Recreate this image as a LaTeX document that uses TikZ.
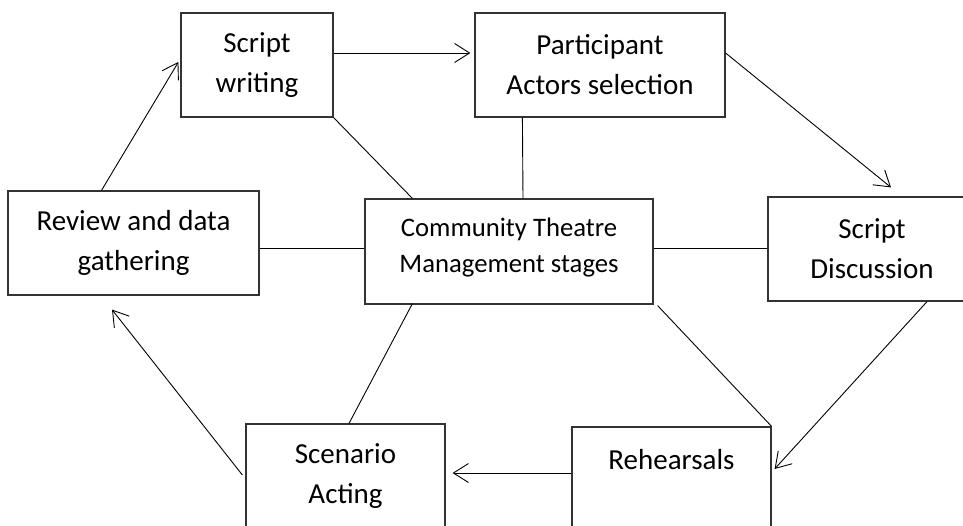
\documentclass[tikz,border=0pt]{standalone}
\usepackage{fontspec}
\setmainfont{Carlito}
\usetikzlibrary{calc}
\usetikzlibrary{arrows.meta}

\begin{document}
\begin{tikzpicture} [x=1pt, y=-1pt,
 stage/.style={draw=black!80, line width=1.2pt, minimum height=104pt, inner sep=0pt, align=center, font=\fontsize{29}{40}\selectfont},
 flow/.style={black, line width=0.9pt, -{Straight Barb[length=15pt,width=19pt]}},
 link/.style={black, line width=0.9pt}]

\useasboundingbox (0,0) rectangle (963,525);

\node[stage, minimum width=152pt] (write) at (257,65) {Script\\writing};
\node[stage, minimum width=250pt] (select) at (600,65) {Participant\\Actors selection};
\node[stage, minimum width=251pt] (review) at (133.5,243) {Review and data\\gathering};
\node[stage, minimum width=288pt, minimum height=105pt, font=\fontsize{26.7}{36}\selectfont] (hub) at (509,251.5) {Community Theatre\\Management stages\\[-23pt]\mbox{}};
\node[stage, minimum width=208pt] (discuss) at (872,249) {Script\\Discussion};
\node[stage, minimum width=199pt] (rehearse) at (671.5,479) {Rehearsals\\\mbox{}};
\node[stage, minimum width=199pt] (acting) at (345.5,476) {Scenario\\Acting};

% cycle of stages
\draw[flow] ([yshift=12pt]write.east) -- ([xshift=-4pt,yshift=12pt]select.west);
\draw[flow] ([yshift=12pt]select.east) -- ([xshift=19pt,yshift=9pt]discuss.north);
\draw[flow] ([xshift=55pt]discuss.south) -- ([xshift=3pt,yshift=10pt]rehearse.east);
\draw[flow] ([yshift=6pt]rehearse.west) -- ([xshift=7pt,yshift=3pt]acting.east);
\draw[flow] ([xshift=-3pt,yshift=1pt]acting.west) -- ([xshift=-21.5pt,yshift=-14pt]review.south);
\draw[flow] ([xshift=-32pt]review.north) -- ([xshift=-2pt,yshift=3pt]write.west);

% links to the centre
\draw[link] (write.south east) -- ([xshift=48pt]hub.north west);
\draw[link] ([xshift=48pt]select.south west) -- ([xshift=14pt]hub.north);
\draw[link] ([yshift=3.5pt]hub.east) -- ([yshift=1pt]discuss.west);
\draw[link] ([xshift=4pt,yshift=-1pt]hub.south east) -- (rehearse.north east);
\draw[link] ([xshift=48pt,yshift=1pt]hub.south west) -- ([xshift=3.5pt]acting.north);
\draw[link] ([yshift=-5pt]review.east) -- ([yshift=3.5pt]hub.west);

\end{tikzpicture}
\end{document}
